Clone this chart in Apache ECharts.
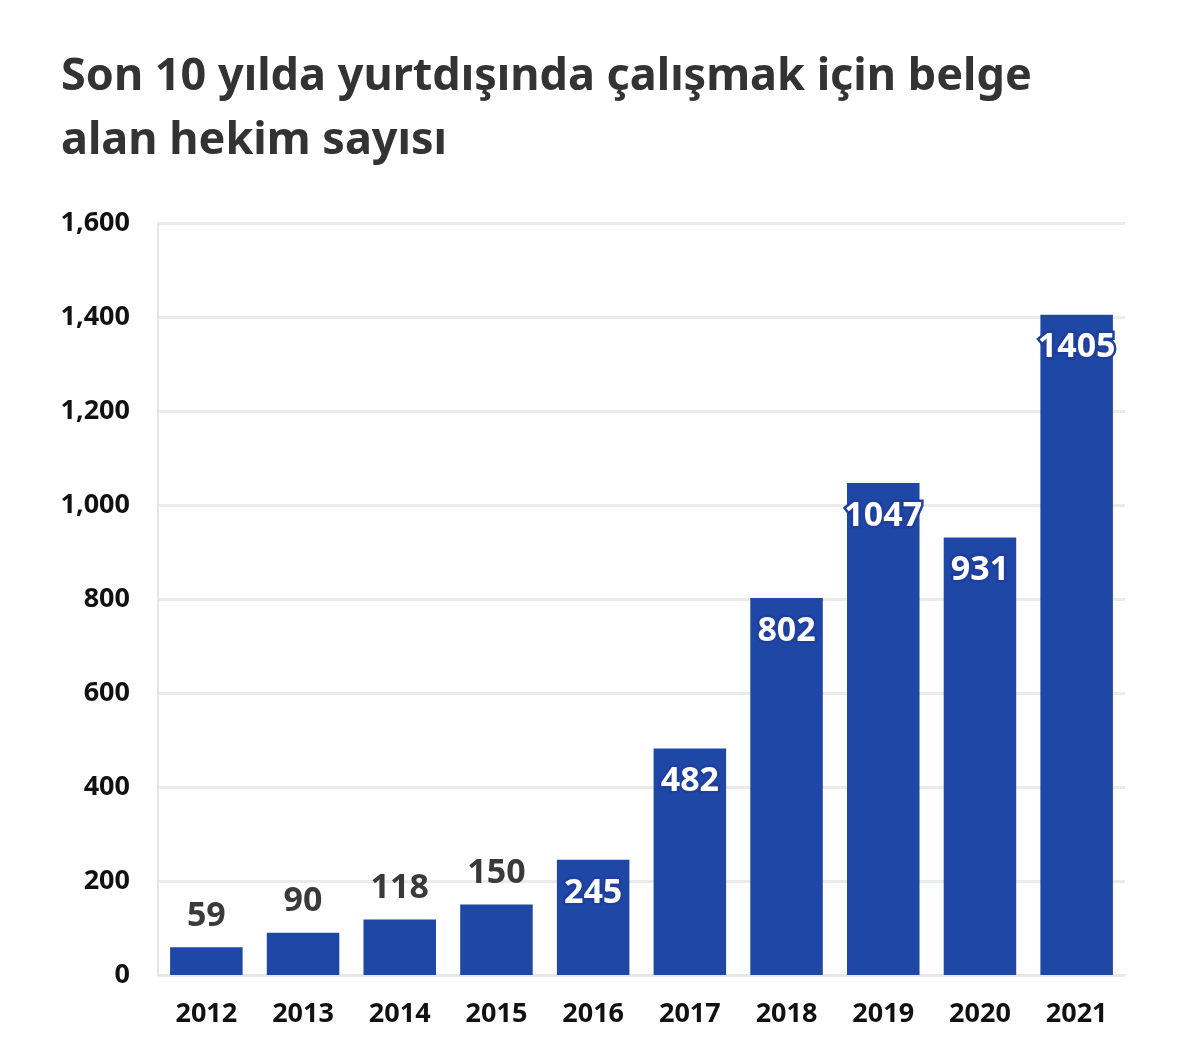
<!DOCTYPE html>
<html><head><meta charset="utf-8">
<script src="https://cdn.jsdelivr.net/npm/echarts@6/dist/echarts.min.js"></script>
<style>html,body{margin:0;background:#fff}#c{width:1200px;height:1054px}</style>
</head><body><div id="c"></div>
<script>
const years = ['2012','2013','2014','2015','2016','2017','2018','2019','2020','2021'];
const values = [59,90,118,150,245,482,802,1047,931,1405];
const yTicks = [0,200,400,600,800,1000,1200,1400,1600];
const FONT = '"Source Sans Pro","Noto Sans",Lato,sans-serif';
const chart = echarts.init(document.getElementById('c'));
const data = values.map(v => v < 200 ? {
  value: v,
  label: {show:true, position:'top', distance:14, color:'#3a3a3a', fontSize:34, fontWeight:'bold', fontFamily:FONT}
} : {
  value: v,
  label: {show:true, position:'insideTop', distance:16, color:'#fff', fontSize:34, fontWeight:'bold', fontFamily:FONT,
          textBorderColor:'#1e3f9e', textBorderWidth:5}
});
chart.setOption({
  animation:false,
  title:{text:'Son 10 yılda yurtdışında çalışmak için belge\nalan hekim sayısı', left:56, top:40,
    textStyle:{fontSize:45, fontWeight:'bold', color:'#333', fontFamily:FONT, lineHeight:64}},
  grid:{left:158, right:75, top:223, bottom:79},
  xAxis:{type:'category', data:years,
    axisLine:{show:true, lineStyle:{color:'#e6e6e6', width:2}}, axisTick:{show:false},
    axisLabel:{color:'#111', fontSize:27, fontWeight:'bold', fontFamily:FONT, margin:26}},
  yAxis:{type:'value', min:yTicks[0], max:yTicks[yTicks.length-1], interval:200,
    axisLine:{show:true, lineStyle:{color:'#e6e6e6', width:2}}, axisTick:{show:false},
    splitLine:{lineStyle:{color:'#ebebeb', width:3}},
    axisLabel:{color:'#111', fontSize:27, fontWeight:'bold', fontFamily:FONT, margin:28}},
  series:[{type:'bar', data:data, barCategoryGap:'25%', itemStyle:{color:'#1f48a6'}}]
});
</script></body></html>
